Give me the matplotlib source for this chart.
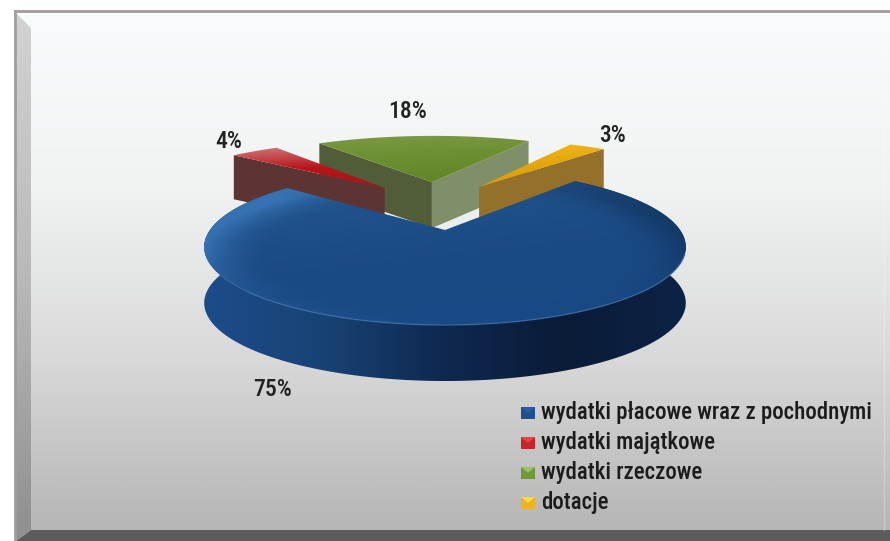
import numpy as np
import matplotlib
matplotlib.use("Agg")
import matplotlib.pyplot as plt
from matplotlib.colors import LinearSegmentedColormap, to_rgb
from matplotlib.patches import Polygon
from matplotlib import font_manager as fm

names = ["wydatki płacowe wraz z pochodnymi", "wydatki majątkowe", "wydatki rzeczowe", "dotacje"]
shares = [75, 4, 18, 3]
pct_labels = ["75%", "4%", "18%", "3%"]

# top face colours, light to dark
top_cols = [["#24588f", "#1b4a84", "#1a4a86"], ["#cf7a7c", "#b8161b", "#a81216"],
            ["#7c9a45", "#6b8e30", "#5f8426"], ["#f2b91c", "#e4a40c", "#d8980a"]]
cut_cols = [None, "#5c3434", "#515c38", "#94702a"]
explode = [(0, 0), (-0.293, 0.645), (-0.065, 0.75), (0.166, 0.663)]
spread = [1.0, 1.12, 1.12, 1.12]
depth = [56, 44, 46, 44]

installed = {f.name for f in fm.fontManager.ttflist}
plt.rcParams["font.family"] = ["Roboto Condensed", "Roboto", "DejaVu Sans"] if "Roboto Condensed" in installed else ["Roboto", "DejaVu Sans"]

fig = plt.figure(figsize=(8.9, 5.41), dpi=100)
ax = fig.add_axes([0, 0, 1, 1])
ax.axis("off")

CX, CY, A, B, P = 445, 230, 235, 74.3, 0.218


def project(u, v):
    w = 1 + P * v
    return np.column_stack([CX + A * u / w, CY - B * v / w])


def arc(i, t0, t1, n=160):
    t = np.radians(np.linspace(t0, t1, n))
    du, dv = explode[i]
    return project(du + spread[i] * np.cos(t), dv + np.sin(t))


def grad_fill(verts, cols, angle=90, z=1):
    cmap = LinearSegmentedColormap.from_list("g", cols)
    x0, y0 = verts.min(axis=0)
    x1, y1 = verts.max(axis=0)
    gy, gx = np.mgrid[0:1:120j, 0:1:240j]
    a = np.radians(angle)
    g = gx * np.cos(a) + gy * np.sin(a)
    g = (g - g.min()) / (g.max() - g.min())
    im = ax.imshow(g, cmap=cmap, extent=[x0, x1, y1, y0], aspect="auto", zorder=z, interpolation="bilinear")
    poly = Polygon(verts, closed=True, transform=ax.transData, fc="none", ec="none")
    ax.add_patch(poly)
    im.set_clip_path(poly)
    return im


def rim_shade(verts, z):
    # light rim on the left, dark rim on the right, both fading to the front
    x0, y0 = verts.min(axis=0)
    x1, y1 = verts.max(axis=0)
    gy, gx = np.mgrid[-1:1:200j, -1:1:400j]
    r = np.hypot(gx, gy)
    rim = np.clip((r - 0.72) / 0.28, 0, 1) ** 2
    back = np.clip(0.75 - gy, 0.15, 0.75)
    light, dark = np.array(to_rgb("#3f7cc0")), np.array(to_rgb("#0e2748"))
    for col, side in ((light, np.clip(-gx * 1.6 - 0.1, 0, 1)), (dark, np.clip(gx * 1.6 - 0.3, 0, 1) * 0.6)):
        rgba = np.zeros(gx.shape + (4,))
        rgba[..., :3] = col
        rgba[..., 3] = rim * side * back
        im = ax.imshow(rgba, extent=[x0, x1, y1, y0], aspect="auto", zorder=z, interpolation="bilinear")
        poly = Polygon(verts, closed=True, transform=ax.transData, fc="none", ec="none")
        ax.add_patch(poly)
        im.set_clip_path(poly)


# frame
grad_fill(np.array([[15, 11], [890, 11], [890, 531], [15, 531]], float),
          ["#f9fcfc", "#f1f3f3", "#d9d9d9", "#b6b6b6"], 90, 0)
grad_fill(np.array([[16, 13], [31, 28], [31, 530], [16, 541]], float), ["#d2d2d2", "#b9b9b9", "#8f8f8f"], 90, 0.5)
ax.add_patch(Polygon([[31, 530], [890, 530], [890, 541], [16, 541]], fc="#5c5c5c", ec="none", zorder=0.6))
ax.plot([15, 15], [541, 11], color="#a39c9c", lw=2, zorder=0.7)
ax.plot([15, 890], [11, 11], color="#a39c9c", lw=2, zorder=0.7)
ax.plot([884, 884], [28, 530], color="#ffffff", lw=1, alpha=0.25, zorder=0.7)

# wedges from the shares, clockwise from the right edge of the gap
angles = 50 - np.cumsum([0] + [s * 3.6 for s in shares])
order = [2, 1, 3, 0]
for k, i in enumerate(order):
    z = 2 + k
    t0, t1 = angles[i], angles[i + 1]
    apex = project(np.array([explode[i][0]]), np.array([explode[i][1]]))
    edge = arc(i, t0, t1)
    d = np.array([0, depth[i]])
    top = np.vstack([apex, edge])
    if i == 0:
        # outer wall, then the top
        wall = np.vstack([edge, (edge + d)[::-1]])
        grad_fill(wall, ["#1c4c8a", "#184274", "#0f2850", "#0a1b38", "#0c2344"], 0, z)
        grad_fill(top, top_cols[i], 70, z + 0.1)
        rim_shade(top, z + 0.2)
        front = edge[40:110]
        ax.plot(front[:, 0], front[:, 1], color="#3a70ae", lw=1.0, alpha=0.7, zorder=z + 0.3)
    else:
        if i == 2:
            # green shows both cut faces
            left = np.vstack([apex, edge[0], edge[0] + d, apex + d])
            right = np.vstack([apex, edge[-1], edge[-1] + d, apex + d])
            ax.add_patch(Polygon(right, fc="#7f9068", ec="none", zorder=z))
            ax.add_patch(Polygon(left, fc=cut_cols[i], ec="none", zorder=z))
        else:
            near = edge[0] if i == 1 else edge[-1]
            face = np.vstack([apex, near, near + d, apex + d])
            ax.add_patch(Polygon(face, fc=cut_cols[i], ec="none", zorder=z))
        grad_fill(top, top_cols[i], 80, z + 0.1)

# percent labels
label_xy = [(272, 389), (229, 141), (408, 112), (612, 135)]
for (x, y), s in zip(label_xy, pct_labels):
    ax.text(x, y, s, fontsize=17, color="#222222", ha="center", va="center", zorder=10, fontweight="medium")

# legend
leg_y = [413, 443, 473, 503]
icon_a = ["#2a5ea0", "#e04545", "#9dbb6a", "#f6da55"]
icon_b = ["#1f4f8f", "#c8242a", "#6f9a35", "#f2b21a"]
for y, name, c1, c2 in zip(leg_y, names, icon_a, icon_b):
    ax.add_patch(Polygon([[521, y - 6], [535, y - 6], [535, y + 6], [521, y + 6]], fc=c2, ec="none", zorder=10))
    ax.add_patch(Polygon([[521, y - 6], [535, y - 6], [528, y]], fc=c1, ec="none", zorder=10.1))
    ax.text(541, y, name, fontsize=16.5, color="#1c1c1c", ha="left", va="center", zorder=10, fontweight="medium")

ax.set_xlim(0, 890)
ax.set_ylim(541, 0)
fig.savefig("out.png", dpi=100, facecolor="white")
